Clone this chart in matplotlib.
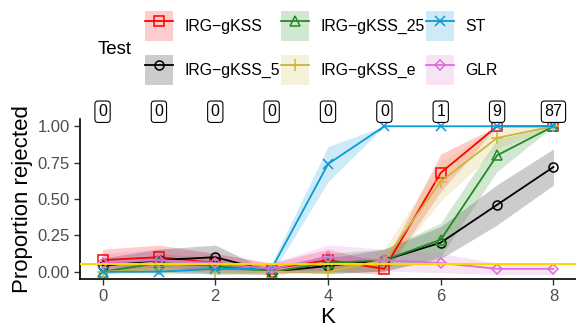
import numpy as np
import matplotlib
matplotlib.use('Agg')
import matplotlib.pyplot as plt
import matplotlib.patches as mpatches
from matplotlib.lines import Line2D

plt.rcParams['font.family'] = ['Liberation Sans', 'DejaVu Sans']

# data
K = [0, 1, 2, 3, 4, 5, 6, 7, 8]
tests = ['IRG\u2212gKSS', 'IRG\u2212gKSS_5', 'IRG\u2212gKSS_25', 'IRG\u2212gKSS_e', 'ST', 'GLR']
irg = [0.08, 0.10, 0.06, 0.02, 0.08, 0.02, 0.68, 1.00, 1.00]
irg5 = [0.04, 0.08, 0.10, 0.00, 0.04, 0.08, 0.20, 0.46, 0.72]
irg25 = [0.00, 0.06, 0.04, 0.00, 0.06, 0.08, 0.22, 0.80, 1.00]
irge = [0.00, 0.02, 0.00, 0.00, 0.00, 0.08, 0.62, 0.92, 1.00]
st = [0.00, 0.00, 0.02, 0.02, 0.74, 1.00, 1.00, 1.00, 1.00]
glr = [0.06, 0.08, 0.06, 0.02, 0.10, 0.08, 0.06, 0.02, 0.02]
counts = [0, 0, 0, 0, 0, 0, 1, 9, 87]
n_rep = 50
alpha_level = 0.05

series = [irg, irg5, irg25, irge, st, glr]
colors = ['#FF0000', '#000000', '#228B22', '#CDB53C', '#0A9AD9', '#DA70D6']
markers = ['s', 'o', '^', '+', 'x', 'D']
msizes = [6.5, 6.5, 7, 8.5, 6.5, 5.5]

fig = plt.figure(figsize=(5.76, 3.27), dpi=100)
ax = fig.add_axes([80/576, 48/327, 496/576, 160/327])

x = np.array(K)
for vals, c in zip(series, colors):
    p = np.array(vals)
    se = 1.96*np.sqrt(p*(1-p)/n_rep)
    ax.fill_between(x, p-se, p+se, color=c, alpha=0.2, lw=0, zorder=1)

handles = []
for vals, c, m, ms, lab in zip(series, colors, markers, msizes, tests):
    ax.plot(x, vals, color=c, lw=1.3, marker=m, ms=ms, mfc='none', mec=c, mew=1.1, zorder=3)
    patch = mpatches.Patch(facecolor=c, alpha=0.2, edgecolor='none')
    line = Line2D([], [], color=c, lw=1.3, marker=m, ms=ms, mfc='none', mec=c, mew=1.1)
    handles.append((patch, line))

ax.axhline(alpha_level, color='#FFD700', lw=1.5, zorder=4)

for k, n in zip(K, counts):
    ax.text(k, 1.1, str(n), ha='center', va='center', fontsize=11.5, clip_on=False,
            bbox=dict(boxstyle='round,pad=0.2,rounding_size=0.2', fc='white', ec='black', lw=0.8))

ax.set_xlim(-0.4, 8.4)
ax.set_ylim(-0.05, 1.05)
ax.set_xticks([0, 2, 4, 6, 8])
ax.set_yticks([0, 0.25, 0.5, 0.75, 1.0])
ax.set_yticklabels(['0.00', '0.25', '0.50', '0.75', '1.00'])
ax.tick_params(labelsize=12, colors='#333333', labelcolor='#4D4D4D', length=4, width=1)
for s in ['top', 'right']:
    ax.spines[s].set_visible(False)
for s in ['left', 'bottom']:
    ax.spines[s].set_linewidth(1.2)
ax.set_xlabel('K', fontsize=16, labelpad=2)
ax.set_ylabel('Proportion rejected', fontsize=16, labelpad=3)

fig.legend(handles, tests, ncol=3, loc='upper left', bbox_to_anchor=(145/576, 1-11/327),
           frameon=False, fontsize=11.4, handlelength=1.77, handleheight=2.54,
           handletextpad=0.7, columnspacing=0.1, labelspacing=0.9, borderpad=0, borderaxespad=0)
fig.text(115/576, 1-50/327, 'Test', fontsize=13.5, ha='center', va='center')

fig.savefig('out.png', dpi=100)
